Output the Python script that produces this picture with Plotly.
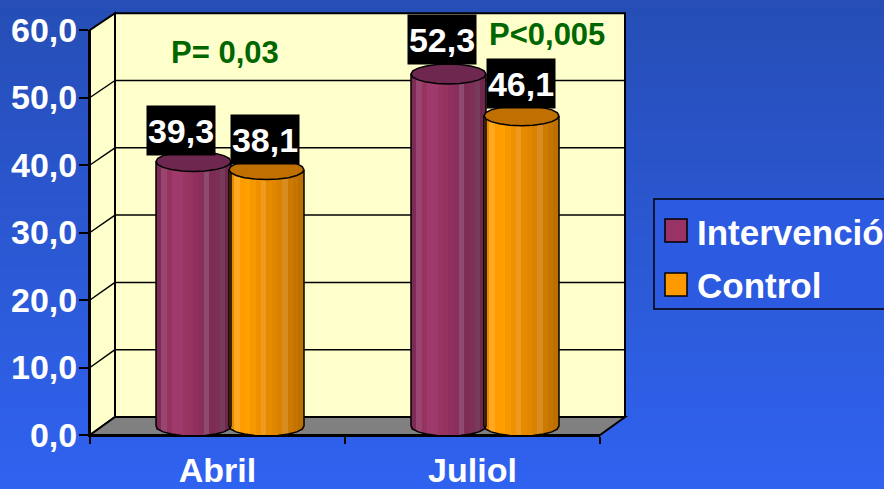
import numpy as np
import plotly.graph_objects as go

W, H = 884, 489
categories = ["Abril", "Juliol"]
series_names = ["Intervenció", "Control"]
intervencion = [39.3, 52.3]
control = [38.1, 46.1]
labels_i = ["39,3", "52,3"]
labels_c = ["38,1", "46,1"]
y_ticks = [0, 10, 20, 30, 40, 50, 60]
y_tick_text = ["0,0", "10,0", "20,0", "30,0", "40,0", "50,0", "60,0"]
notes = ["P= 0,03", "P<0,005"]

shade_i = ["#7f2b55", "#98466f", "#96335f", "#a03a6c", "#a03a6c", "#983565", "#96335f", "#903060",
           "#8a2f5c", "#8f4a70", "#7e2c53", "#7c3055", "#773a5a", "#6e284b"]
shade_c = ["#e88a00", "#ffa820", "#ff9d00", "#ffa000", "#f89800", "#f09000", "#ee9a20", "#e68a00",
           "#e08600", "#d88200", "#d68c20", "#cc7a00", "#c47400", "#bc7000"]
top_colors = ["#6e2850", "#c07000"]
bg_top, bg_bottom = (38, 78, 182), (48, 98, 240)

PXX = 255.0   # pixels per category
PXY = 6.73    # pixels per value unit
CX, CY = 230.0, 426.0
hw = 37.5 / PXX
hh = 10.0 / PXY
off = 36.5 / PXX
n = 14


def px(x):
    return x / W


def py(y):
    return 1 - y / H


shapes = []
N = 60
for i in range(N):
    t = i / (N - 1)
    c = [round(a + (b - a) * t) for a, b in zip(bg_top, bg_bottom)]
    shapes.append(dict(type="rect", xref="paper", yref="paper", layer="below",
                       x0=0, x1=1, y0=py((i + 1) * H / N + 1), y1=py(i * H / N),
                       line_width=0, fillcolor=f"rgb({c[0]},{c[1]},{c[2]})"))


def poly(pts, fill, lw=2):
    path = "M " + " L ".join(f"{px(a):.5f} {py(b):.5f}" for a, b in pts) + " Z"
    shapes.append(dict(type="path", xref="paper", yref="paper", layer="below", path=path,
                       fillcolor=fill, line=dict(color="black", width=lw)))


def seg(p, q, lw=1.5):
    shapes.append(dict(type="line", xref="paper", yref="paper", layer="below",
                       x0=px(p[0]), y0=py(p[1]), x1=px(q[0]), y1=py(q[1]),
                       line=dict(color="black", width=lw)))


fy = lambda v: 435 - 6.75 * v
by = lambda v: 417 - 6.73 * v
poly([(115, by(0)), (115, by(60)), (625, by(60)), (625, by(0))], "#ffffcc")
poly([(90, fy(0)), (90, fy(60)), (115, by(60)), (115, by(0))], "#ffffcc")
poly([(90, fy(0)), (115, by(0)), (625, by(0)), (600, fy(0))], "#808080")
for v in y_ticks[1:-1]:
    seg((90, fy(v)), (115, by(v)))
    seg((115, by(v)), (625, by(v)))

# legend frame and swatches
poly([(654, 199), (900, 199), (900, 309), (654, 309)], "#2c5ae0", 1.5)
poly([(665, 219), (687, 219), (687, 242), (665, 242)], "#993366", 1.5)
poly([(665, 273), (687, 273), (687, 296), (665, 296)], "#ff9900", 1.5)

fig = go.Figure()
t_strip = np.linspace(-1, 1, n + 1)
mid = (t_strip[:-1] + t_strip[1:]) / 2
ang = np.linspace(0, 2 * np.pi, 21)
half = np.linspace(np.pi, 2 * np.pi, 11)

for s, (vals, shades, name, side) in enumerate([(intervencion, shade_i, series_names[0], -1),
                                                 (control, shade_c, series_names[1], 1)]):
    for c, v in enumerate(vals):
        cx = c + side * off
        base = -hh * np.sqrt(1 - mid ** 2)
        fig.add_trace(go.Bar(x=cx + mid * hw, y=v - base, base=base, width=2 * hw / n * 1.08,
                             marker=dict(color=shades, line_width=0), name=name,
                             showlegend=False, hoverinfo="skip"))
        fig.add_trace(go.Scatter(x=cx + hw * np.cos(ang), y=v + hh * np.sin(ang), mode="lines",
                                 fill="toself", fillcolor=top_colors[s],
                                 line=dict(color="black", width=1.5), name=name,
                                 showlegend=False, hoverinfo="skip"))
        ox = np.r_[cx - hw, cx + hw * np.cos(half), cx + hw]
        oy = np.r_[v, hh * np.sin(half), v]
        fig.add_trace(go.Scatter(x=ox, y=oy, mode="lines", line=dict(color="black", width=1.5),
                                 showlegend=False, hoverinfo="skip"))

# invisible trace that carries the front axes
fig.add_trace(go.Scatter(x=[0, 1], y=[0, 60], xaxis="x2", yaxis="y2", mode="markers",
                         marker_opacity=0, showlegend=False, hoverinfo="skip"))

FONT = "Liberation Sans, Arial, sans-serif"
bold = lambda size, color="white": dict(family=FONT, size=size, color=color)

box_shift = [[(-13, 31), (-6.5, 35)], [(-1.5, 30), (-0.5, 32)]]
for s, (vals, labs, side) in enumerate([(intervencion, labels_i, -1), (control, labels_c, 1)]):
    for c, (v, lab) in enumerate(zip(vals, labs)):
        fig.add_annotation(x=c + side * off, y=v, text=f"<b>{lab}</b>", showarrow=False,
                           xshift=box_shift[s][c][0], yshift=box_shift[s][c][1],
                           bgcolor="black", width=66, height=47, borderpad=1, align="center",
                           font=bold(34))

for txt, x, y in [(notes[0], 225, 52), (notes[1], 547, 35)]:
    fig.add_annotation(xref="paper", yref="paper", x=px(x), y=py(y), text=f"<b>{txt}</b>",
                       showarrow=False, font=bold(31, "#006600"), xanchor="center", yanchor="middle")
for txt, y in [(series_names[0], 232), (series_names[1], 285)]:
    fig.add_annotation(xref="paper", yref="paper", x=px(697), y=py(y), text=f"<b>{txt}</b>",
                       showarrow=False, font=bold(35), xanchor="left", yanchor="middle", borderpad=0,
                       borderwidth=0)

fig.update_layout(
    width=W, height=H, margin=dict(l=0, r=0, t=0, b=0, pad=0), autosize=False,
    paper_bgcolor="rgba(0,0,0,0)", plot_bgcolor="rgba(0,0,0,0)",
    barmode="overlay", bargap=0, showlegend=False, shapes=shapes,
    xaxis=dict(domain=[0, 1], range=[-CX / PXX, (W - CX) / PXX], visible=False, fixedrange=True, automargin=False),
    yaxis=dict(domain=[0, 1], range=[(CY - H) / PXY, CY / PXY], visible=False, fixedrange=True, automargin=False),
    xaxis2=dict(domain=[90 / W, 600 / W], range=[-0.5, 1.5], anchor="y2", tickvals=[0, 1],
                ticktext=[f"<b>{c}</b>" for c in categories], ticks="", showgrid=False, automargin=False,
                showline=True, linecolor="black", linewidth=2, tickfont=bold(34),
                ticklabelstandoff=4, zeroline=False,
                minor=dict(tick0=-0.5, dtick=1, ticks="outside", ticklen=7, tickcolor="black", tickwidth=1.5)),
    yaxis2=dict(domain=[(H - fy(0)) / H, (H - fy(60)) / H], range=[0, 60], anchor="x2", automargin=False,
                tickvals=y_ticks, ticktext=[f"<b>{t}</b>" for t in y_tick_text], ticks="outside",
                ticklen=9, tickcolor="black", tickwidth=1.5, showgrid=False, zeroline=False,
                ticklabelstandoff=-5,
                showline=True, linecolor="black", linewidth=2, tickfont=bold(34)),
)

fig.write_html("out.html", config=dict(displayModeBar=False),
               post_script="document.body.style.margin='0';document.body.style.overflow='hidden';")
